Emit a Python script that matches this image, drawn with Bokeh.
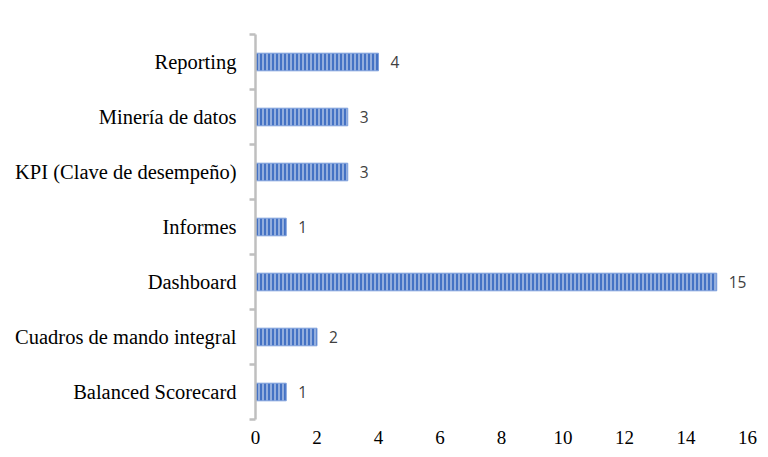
from bokeh.plotting import figure
from bokeh.models import FixedTicker, ColumnDataSource, Range1d
from bokeh.core.properties import value
from bokeh.embed import file_html
from bokeh.resources import INLINE

categories = ["Balanced Scorecard", "Cuadros de mando integral", "Dashboard",
              "Informes", "KPI (Clave de desempeño)", "Minería de datos", "Reporting"]
values = [1, 2, 15, 1, 3, 3, 4]
x_ticks = [0, 2, 4, 6, 8, 10, 12, 14, 16]

ypos = list(range(len(categories)))
src = ColumnDataSource(dict(y=ypos, v=values, lab=[str(v) for v in values]))

p = figure(width=768, height=457, output_backend="svg", toolbar_location=None,
           x_range=Range1d(0, 16), y_range=Range1d(-0.5, len(categories) - 0.5),
           min_border_left=255, min_border_right=21, min_border_top=34, min_border_bottom=38)
p.outline_line_color = None
p.xgrid.grid_line_color = None
p.ygrid.grid_line_color = None

p.hbar(y="y", right="v", left=0, height=0.32, source=src,
       fill_color="#4472C4", line_color="#7fa0dc", line_width=1,
       hatch_pattern="|", hatch_color="white", hatch_scale=4, hatch_weight=1, hatch_alpha=0.85)

p.text(x="v", y="y", text="lab", source=src, x_offset=12, text_align="left",
       text_baseline="middle", text_font=value("Open Sans"), text_font_size="15.5px",
       text_color="#404040")

# x axis
p.xaxis.ticker = FixedTicker(ticks=x_ticks)
p.xaxis.axis_line_color = None
p.xaxis.major_tick_line_color = None
p.xaxis.minor_tick_line_color = None
p.xaxis.major_tick_out = 0
p.xaxis.major_label_standoff = 11
p.xaxis.major_label_text_font = "Liberation Serif"
p.xaxis.major_label_text_font_size = "19px"
p.xaxis.major_label_text_color = "#000000"

# y axis
boundaries = [i - 0.5 for i in range(len(categories) + 1)]
p.yaxis.ticker = FixedTicker(ticks=ypos, minor_ticks=boundaries)
p.yaxis.major_label_overrides = {i: c for i, c in enumerate(categories)}
p.yaxis.axis_line_color = "#bfbfbf"
p.yaxis.axis_line_width = 2.5
p.yaxis.major_tick_line_color = None
p.yaxis.major_tick_out = 0
p.yaxis.major_tick_in = 0
p.yaxis.minor_tick_line_color = "#bfbfbf"
p.yaxis.minor_tick_line_width = 2.5
p.yaxis.minor_tick_out = 6
p.yaxis.minor_tick_in = 0
p.yaxis.major_label_standoff = 13
p.yaxis.major_label_text_font = "Liberation Serif"
p.yaxis.major_label_text_font_size = "20.5px"
p.yaxis.major_label_text_color = "#000000"

open("out.html", "w").write(file_html(p, INLINE))
